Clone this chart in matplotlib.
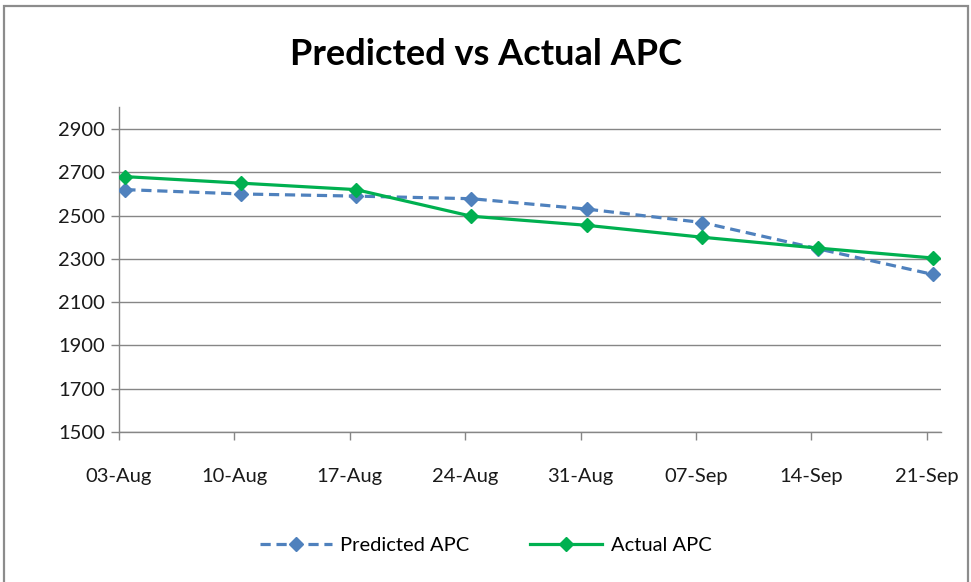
import matplotlib
matplotlib.use("Agg")
import matplotlib.pyplot as plt
from matplotlib.patches import Rectangle
import numpy as np

# data
tick_labels = ["03-Aug", "10-Aug", "17-Aug", "24-Aug", "31-Aug", "07-Sep", "14-Sep", "21-Sep"]
predicted_apc = [2620, 2600, 2590, 2578, 2530, 2468, 2347, 2228]
actual_apc = [2680, 2650, 2620, 2497, 2455, 2400, 2350, 2304]
y_ticks = [1500, 1700, 1900, 2100, 2300, 2500, 2700, 2900]

BLUE = "#4F81BD"
GREEN = "#00B050"
GRID = "#868686"

plt.rcParams["font.family"] = ["Lato", "DejaVu Sans"]

fig = plt.figure(figsize=(9.71, 5.82), dpi=100)
ax = fig.add_axes([0.1226, 0.2577, 0.9688 - 0.1226, 0.8155 - 0.2577])

# weekly date axis in days; points sit a bit past each tick like the excel date axis
days = np.arange(len(tick_labels)) * 7
offset = 0.38

ax.plot(days + offset, predicted_apc, color=BLUE, lw=2.3, linestyle=(0, (3.2, 1.8)),
        marker="D", markersize=7.5, label="Predicted APC", zorder=3)
ax.plot(days + offset, actual_apc, color=GREEN, lw=2.3,
        marker="D", markersize=7.5, label="Actual APC", zorder=4)

ax.set_xlim(0, 49.85)
ax.set_ylim(1500, 3000)
ax.set_xticks(days)
ax.set_xticklabels(tick_labels)
ax.set_yticks(y_ticks)

ax.grid(axis="y", color=GRID, lw=1.0)
ax.set_axisbelow(True)
for side in ("top", "right"):
    ax.spines[side].set_visible(False)
for side in ("left", "bottom"):
    ax.spines[side].set_color(GRID)
    ax.spines[side].set_linewidth(1.0)
ax.tick_params(axis="both", colors=GRID, length=6, width=1.0, labelsize=14.5,
               labelcolor="#1a1a1a")
ax.tick_params(axis="x", pad=20)
ax.tick_params(axis="y", pad=4)

fig.text(0.5, 0.906, "Predicted vs Actual APC", ha="center", va="center",
         fontsize=26, fontweight="bold", color="black")

fig.legend(loc="center", bbox_to_anchor=(0.5, 0.063), ncol=2, frameon=False,
           fontsize=14.5, handlelength=3.6, columnspacing=3.0, handletextpad=0.4)

# outer chart border
fig.patches.append(Rectangle((4 / 971, -0.05), 964 / 971, 1.05 - 6 / 582,
                             transform=fig.transFigure, fill=False,
                             edgecolor="#8c8c8c", lw=1.6))

fig.savefig("out.png", dpi=100)
